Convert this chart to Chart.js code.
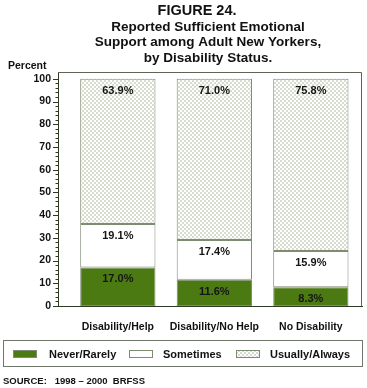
<!DOCTYPE html>
<html>
<head>
<meta charset="utf-8">
<script src="https://cdn.jsdelivr.net/npm/chart.js@4.4.1/dist/chart.umd.min.js"></script>
<style>
  html, body { margin: 0; padding: 0; background: #fff; }
  #wrap { width: 367px; height: 388px; position: relative; }
</style>
</head>
<body>
<div id="wrap"><canvas id="chartFig24"></canvas></div>
<script>
// data
const categorias = ["Disability/Help", "Disability/No Help", "No Disability"];
const neverRarely = [17.0, 11.6, 8.3];
const sometimes = [19.1, 17.4, 15.9];
const usuallyAlways = [63.9, 71.0, 75.8];
const yTicks = [0, 10, 20, 30, 40, 50, 60, 70, 80, 90, 100];
const titulo = "FIGURE 24.";
const subtitulo = [
  "Reported Sufficient Emotional",
  "Support among Adult New Yorkers,",
  "by Disability Status.",
];
const fonte = "SOURCE:   1998 \u2013 2000  BRFSS";

const FONT = "'Liberation Sans', Arial, Helvetica, sans-serif";
const verde = "#4b7a12";
const bordaBarra = "#7f8c74";

// light crosshatch pattern for Usually/Always
const hatch = (() => {
  const c = document.createElement("canvas");
  c.width = 4;
  c.height = 4;
  const g = c.getContext("2d");
  g.fillStyle = "#ffffff";
  g.fillRect(0, 0, 4, 4);
  g.fillStyle = "#d6ddcf";
  g.fillRect(0, 0, 2, 2);
  g.fillRect(2, 2, 2, 2);
  return g.createPattern(c, "repeat");
})();

const toPoints = (arr) => arr.map((v, i) => ({ x: i, y: v }));

const data = {
  datasets: [
    {
      label: "Never/Rarely",
      data: toPoints(neverRarely),
      backgroundColor: verde,
      borderColor: bordaBarra,
      borderWidth: 1,
      borderSkipped: false,
    },
    {
      label: "Sometimes",
      data: toPoints(sometimes),
      backgroundColor: "#ffffff",
      borderColor: bordaBarra,
      borderWidth: 1,
      borderSkipped: false,
    },
    {
      label: "Usually/Always",
      data: toPoints(usuallyAlways),
      backgroundColor: hatch,
      borderColor: bordaBarra,
      borderWidth: 1,
      borderSkipped: false,
    },
  ],
};

// titles, percent labels, y tick marks, frame, legend, source
const extras = {
  id: "extras",
  afterDraw(chart) {
    const ctx = chart.ctx;
    const area = chart.chartArea;
    const y = chart.scales.y;
    ctx.save();

    // frame (top and right)
    ctx.strokeStyle = "#5c6652";
    ctx.lineWidth = 1;
    ctx.beginPath();
    ctx.moveTo(area.left, area.top + 0.5);
    ctx.lineTo(area.right - 0.5, area.top + 0.5);
    ctx.lineTo(area.right - 0.5, area.bottom);
    ctx.stroke();

    // y tick marks, major every 10, minor every 2
    ctx.strokeStyle = "#2f3a26";
    for (let v = 0; v <= 100; v += 2) {
      const py = Math.round(y.getPixelForValue(v)) + 0.5;
      const len = v % 10 === 0 ? 5 : 2.5;
      ctx.beginPath();
      ctx.moveTo(area.left - len, py);
      ctx.lineTo(area.left, py);
      ctx.stroke();
    }

    // value labels near the top of each segment
    ctx.fillStyle = "#151515";
    ctx.font = "bold 11px " + FONT;
    ctx.textAlign = "center";
    ctx.textBaseline = "middle";
    chart.data.datasets.forEach((ds, di) => {
      const meta = chart.getDatasetMeta(di);
      meta.data.forEach((bar, i) => {
        ctx.fillText(ds.data[i].y.toFixed(1) + "%", bar.x, bar.y + 12);
      });
    });

    // title
    ctx.fillStyle = "#111";
    ctx.font = "bold 14.5px " + FONT;
    ctx.fillText(titulo, 197, 11);
    ctx.font = "bold 13.5px " + FONT;
    subtitulo.forEach((t, i) => ctx.fillText(t, 208, 27 + i * 15.5));

    // axis caption
    ctx.font = "bold 10.5px " + FONT;
    ctx.textAlign = "left";
    ctx.fillText("Percent", 8, 66);

    // legend box
    ctx.strokeStyle = "#6f776b";
    ctx.strokeRect(3.5, 340.5, 359, 26);
    const itens = [
      { sw: 13, tx: 49 },
      { sw: 129, tx: 163 },
      { sw: 236, tx: 270 },
    ];
    ctx.font = "bold 11px " + FONT;
    chart.data.datasets.forEach((ds, di) => {
      const it = itens[di];
      ctx.fillStyle = ds.backgroundColor;
      ctx.fillRect(it.sw, 350.5, 24, 7);
      ctx.strokeStyle = ds.borderColor;
      ctx.strokeRect(it.sw + 0.5, 350.5, 23, 7);
      ctx.fillStyle = "#111";
      ctx.fillText(ds.label, it.tx, 354.5);
    });

    // source
    ctx.font = "bold 9.5px " + FONT;
    ctx.fillText(fonte, 3, 381);
    ctx.restore();
  },
};

const config = {
  type: "bar",
  data: data,
  options: {
    responsive: false,
    animation: false,
    layout: { padding: { top: 72, left: 0, right: 5, bottom: 0 } },
    datasets: {
      bar: { barPercentage: 0.78, categoryPercentage: 1.0 },
    },
    scales: {
      x: {
        type: "linear",
        min: -0.62,
        max: 2.53,
        offset: false,
        stacked: true,
        afterFit: (scale) => {
          scale.height = 82;
        },
        afterBuildTicks: (scale) => {
          scale.ticks = categorias.map((_, i) => ({ value: i }));
        },
        grid: { display: false, drawTicks: false, offset: false },
        border: { display: true, color: "#2f3a26", width: 1 },
        ticks: {
          padding: 15,
          color: "#111",
          font: { family: FONT, size: 10.5, weight: "bold" },
          maxRotation: 0,
          autoSkip: false,
          callback: (value) => categorias[value],
        },
      },
      y: {
        stacked: true,
        min: 0,
        max: 103,
        afterFit: (scale) => {
          scale.width = 58;
        },
        afterBuildTicks: (scale) => {
          scale.ticks = yTicks.map((v) => ({ value: v }));
        },
        grid: { display: false, drawTicks: false },
        border: { display: true, color: "#2f3a26", width: 1 },
        ticks: {
          padding: 7,
          color: "#111",
          font: { family: FONT, size: 10.5, weight: "bold" },
        },
      },
    },
    plugins: {
      legend: { display: false },
      tooltip: { enabled: false },
    },
  },
  plugins: [extras],
};

const canvas = document.getElementById("chartFig24");
canvas.width = 367;
canvas.height = 388;
new Chart(canvas.getContext("2d"), config);
</script>
</body>
</html>
